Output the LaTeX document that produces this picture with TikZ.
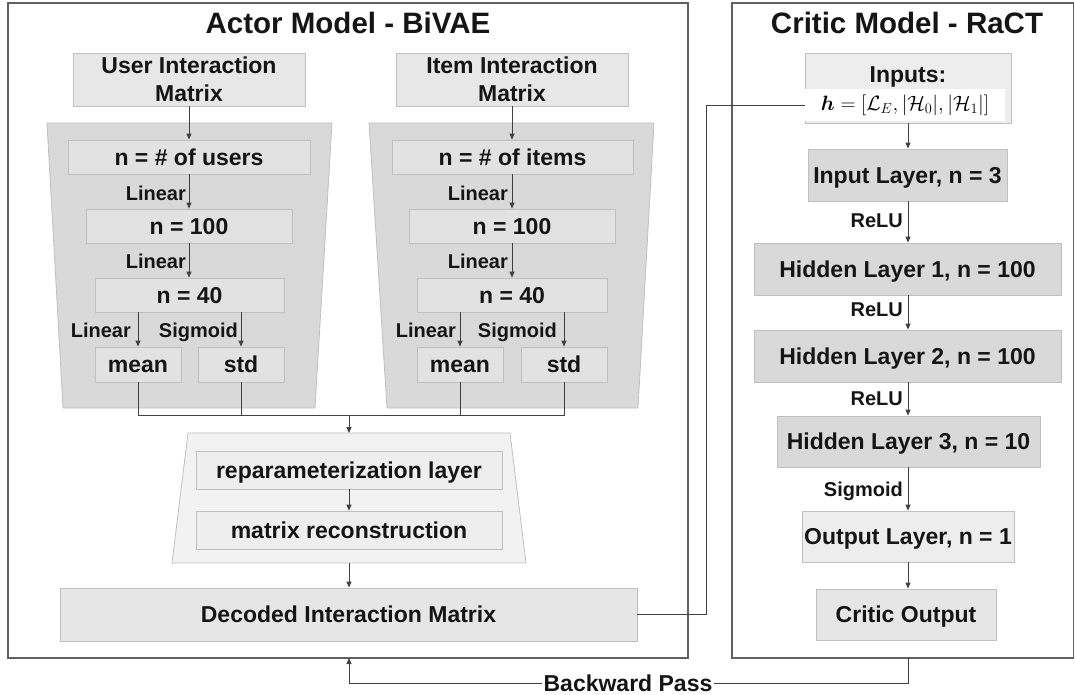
\documentclass[tikz,border=0pt]{standalone}
\usepackage{fontspec}
\usepackage{amsmath}
\setmainfont{Liberation Sans}
\usetikzlibrary{arrows.meta,calc}
\definecolor{cA}{HTML}{E7E7E7}
\definecolor{cTrap}{HTML}{D9D9D9}
\definecolor{cIn}{HTML}{E2E2E2}
\definecolor{cDecT}{HTML}{F2F2F2}
\definecolor{cDecB}{HTML}{EEEEEE}
\definecolor{cDec}{HTML}{E6E6E6}
\definecolor{cDark}{HTML}{D9D9D9}
\definecolor{cLight}{HTML}{EDEDED}
\definecolor{bordc}{HTML}{BFBFBF}
\definecolor{linec}{HTML}{404040}
\definecolor{outc}{HTML}{606060}
\definecolor{txt}{HTML}{151515}
\tikzset{
  box/.style={draw=bordc, line width=0.8pt, inner sep=0pt, text height=16.5pt, text depth=0pt,
    font=\bfseries\fontsize{23}{28}\selectfont, text=txt},
  boxml/.style={draw=bordc, line width=0.8pt, inner sep=0pt, align=center,
    font=\bfseries\fontsize{23}{28}\selectfont, text=txt},
  txtonly/.style={inner sep=0pt, text height=16.5pt, text depth=0pt,
    font=\bfseries\fontsize{23}{28}\selectfont, text=txt},
  lbl/.style={inner sep=0pt, anchor=east, text height=14.4pt, text depth=0pt,
    font=\bfseries\fontsize{20}{24}\selectfont, text=txt},
  ttl/.style={inner sep=0pt, anchor=base, font=\bfseries\fontsize{29.5}{34}\selectfont, text=txt},
  conn/.style={draw=linec, line width=1pt},
  arr/.style={conn, -{Triangle[length=6pt,width=5pt]}},
  outer/.style={draw=outc, line width=1.5pt, inner sep=0pt},
  trapz/.style={draw=bordc, line width=0.8pt},
}
\begin{document}
\begin{tikzpicture}[x=1pt,y=-1pt]
\useasboundingbox (0,0) rectangle (1075,695);
% outer boxes
\node[outer, minimum width=680pt, minimum height=655pt] (actor) at (348,330.5) {};
\node[outer, minimum width=341.5pt, minimum height=655pt] (critic) at (902.75,330.5) {};
\node[ttl] (tA) at (348,34) {Actor Model - BiVAE};
\node[ttl] (tC) at (907,34) {Critic Model - RaCT};

% trapezoids
\draw[trapz, fill=cTrap] (47,123) -- (332,123) -- (315,408) -- (63,408) -- cycle;
\draw[trapz, fill=cTrap] (369,123) -- (654,123) -- (638,408) -- (387,408) -- cycle;
\draw[trapz, fill=cDecT] (188,433) -- (510,433) -- (526,563) -- (172,563) -- cycle;
\coordinate (dtop) at (349,433);
\coordinate (dbot) at (349,563);
\coordinate (mrg) at (349,415);

% matrices
\node[boxml, fill=cA, minimum width=232pt, minimum height=53pt] (umat) at (189,79.5) {User Interaction\\Matrix};
\node[boxml, fill=cA, minimum width=232pt, minimum height=53pt] (imat) at (512,79.5) {Item Interaction\\Matrix};

% user encoder
\node[box, fill=cIn, minimum width=242pt, minimum height=34pt] (uN) at (189,157) {n = \# of users};
\node[box, fill=cIn, minimum width=206pt, minimum height=34pt] (u100) at (189,226) {n = 100};
\node[box, fill=cIn, minimum width=189pt, minimum height=34pt] (u40) at (189.5,295) {n = 40};
\node[box, fill=cIn, minimum width=86pt, minimum height=35pt] (umean) at (138,364.5) {mean};
\node[box, fill=cIn, minimum width=86pt, minimum height=35pt] (ustd) at (241,364.5) {std};
% item encoder
\node[box, fill=cIn, minimum width=241pt, minimum height=34pt] (iN) at (512.5,157) {n = \# of items};
\node[box, fill=cIn, minimum width=206pt, minimum height=34pt] (i100) at (512,226) {n = 100};
\node[box, fill=cIn, minimum width=190pt, minimum height=34pt] (i40) at (512,295) {n = 40};
\node[box, fill=cIn, minimum width=86pt, minimum height=35pt] (imean) at (460,364.5) {mean};
\node[box, fill=cIn, minimum width=86pt, minimum height=35pt] (istd) at (564,364.5) {std};

% decoder
\node[box, fill=cDecB, minimum width=306pt, minimum height=38pt] (repar) at (349,470) {reparameterization layer};
\node[box, fill=cDecB, minimum width=306pt, minimum height=38pt] (mrec) at (349,530) {matrix reconstruction};
\node[box, fill=cDec, minimum width=577pt, minimum height=53pt] (dec) at (348.5,614.5) {Decoded Interaction Matrix};

% critic
\node[boxml, fill=cLight, minimum width=206pt, minimum height=70pt] (inputs) at (908,88) {};
\node[txtonly] (inlbl) at (908,74) {Inputs:};
\node[fill=white, inner sep=0pt, minimum width=200pt, minimum height=32pt, font=\fontsize{22}{26}\selectfont] (hform) at (905,105.5)
  {$\boldsymbol{h} = [\mathcal{L}_E, |\mathcal{H}_0|, |\mathcal{H}_1|]$};
\node[box, fill=cDark, minimum width=199pt, minimum height=52pt] (inl) at (907.5,175) {Input Layer, n = 3};
\node[box, fill=cDark, minimum width=307pt, minimum height=52pt] (h1) at (907.5,269) {Hidden Layer 1, n = 100};
\node[box, fill=cDark, minimum width=307pt, minimum height=52pt] (h2) at (907.5,356) {Hidden Layer 2, n = 100};
\node[box, fill=cDark, minimum width=263pt, minimum height=51pt] (h3) at (908.5,441.5) {Hidden Layer 3, n = 10};
\node[box, fill=cLight, minimum width=212pt, minimum height=51pt] (outl) at (908,536.5) {Output Layer, n = 1};
\node[box, fill=cDec, minimum width=180pt, minimum height=51pt] (cout) at (906,614.5) {Critic Output};

% user arrows
\draw[arr] (umat.south) -- (umat.south |- uN.north);
\draw[arr] (umat.south |- uN.south) -- (umat.south |- u100.north);
\draw[arr] (umat.south |- u100.south) -- (umat.south |- u40.north);
\draw[arr] (umean.north |- u40.south) -- (umean.north);
\draw[arr] (ustd.north |- u40.south) -- (ustd.north);
\node[lbl] (l1) at (186,193) {Linear};
\node[lbl] (l2) at (186,261) {Linear};
\node[lbl] (l3) at (131,330) {Linear};
\node[lbl] (l4) at (238,330) {Sigmoid};
% item arrows
\draw[arr] (imat.south) -- (imat.south |- iN.north);
\draw[arr] (imat.south |- iN.south) -- (imat.south |- i100.north);
\draw[arr] (imat.south |- i100.south) -- (imat.south |- i40.north);
\draw[arr] (imean.north |- i40.south) -- (imean.north);
\draw[arr] (istd.north |- i40.south) -- (istd.north);
\node[lbl] (l5) at (508,193) {Linear};
\node[lbl] (l6) at (508,261) {Linear};
\node[lbl] (l7) at (456,330) {Linear};
\node[lbl] (l8) at (557,330) {Sigmoid};

% merge
\draw[conn] (umean.south) |- (mrg);
\draw[conn] (ustd.south) |- (mrg);
\draw[conn] (imean.south) |- (mrg);
\draw[conn] (istd.south) |- (mrg);
\draw[arr] (mrg) -- (dtop);
\draw[arr] (repar.south) -- (mrec.north);
\draw[arr] (dbot) -- (dbot |- dec.north);

% to critic
\draw[conn] (dec.east) -- ++(69,0) |- (hform.west);

% critic arrows
\coordinate (cx) at (908,0);
\draw[arr] (cx |- inputs.south) -- (cx |- inl.north);
\draw[arr] (cx |- inl.south) -- (cx |- h1.north);
\draw[arr] (cx |- h1.south) -- (cx |- h2.north);
\draw[arr] (cx |- h2.south) -- (cx |- h3.north);
\draw[arr] (cx |- h3.south) -- (cx |- outl.north);
\draw[arr] (cx |- outl.south) -- (cx |- cout.north);
\node[lbl] (r1) at (903,220) {ReLU};
\node[lbl] (r2) at (903,309) {ReLU};
\node[lbl] (r3) at (903,398) {ReLU};
\node[lbl] (r4) at (903,489) {Sigmoid};

% backward pass
\node[fill=white, inner sep=1.5pt, text height=16.5pt, text depth=0pt, font=\bfseries\fontsize{23}{28}\selectfont, text=txt] (bp) at (628,683) {Backward Pass};
\coordinate (bk) at (908,658);
\coordinate (ak) at (349,658);
\draw[conn] (bp.east) -| (bk);
\draw[arr] (bp.west) -| (ak);
\end{tikzpicture}
\end{document}
